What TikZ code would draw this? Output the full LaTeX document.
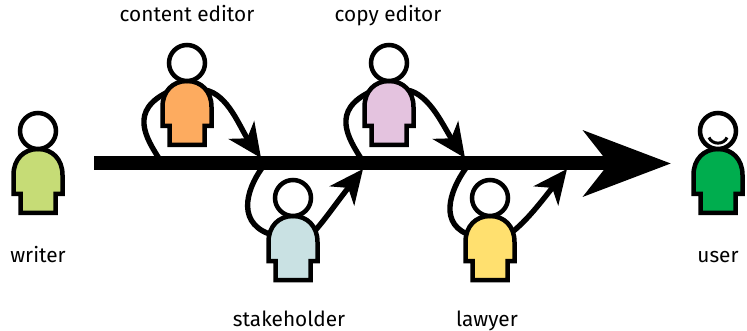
\documentclass[tikz,border=0pt]{standalone}
\usepackage{fontspec}
\setmainfont{Fira Sans}
\usetikzlibrary{arrows.meta}
\definecolor{cwriter}{HTML}{C6DC76}
\definecolor{ccontent}{HTML}{FDAB5F}
\definecolor{ccopy}{HTML}{E4C3DF}
\definecolor{cstake}{HTML}{C9E1E3}
\definecolor{claw}{HTML}{FFE06F}
\definecolor{cuser}{HTML}{00AD4E}
\tikzset{
  x=1pt,y=-1pt,
  lbl/.style={font=\fontsize{20.8}{22}\selectfont,text=black,inner sep=0pt,anchor=base},
  outline/.style={draw=black,line width=4.5pt,line join=miter},
  loopline/.style={draw=black,line width=5.4pt},
  flow/.style={draw=black,line width=5.4pt,-{Stealth[length=34pt,width=31pt,inset=10pt]}},
  mainflow/.style={draw=black,line width=14pt,-{Stealth[length=87pt,width=65pt,inset=25pt]}},
  pics/person/.style={code={
    \path[outline,fill=#1] (-24.5,44) .. controls (-24.5,28) and (-14,18) .. (0,18)
      .. controls (14,18) and (24.5,28) .. (24.5,44) -- (24.5,63) -- (17.5,63) -- (17.5,82)
      -- (-17.5,82) -- (-17.5,63) -- (-24.5,63) -- cycle;
    \path[outline,fill=white] (0,0) circle[radius=18];
  }}
}
\begin{document}
\begin{tikzpicture}
\useasboundingbox (0,0) rectangle (747,331);
% main flow
\coordinate (start) at (94,163.5);
\coordinate (end) at (671,163.5);
\draw[mainflow] (start) -- (end);
% loops above
\coordinate (a1) at (160,160);
\coordinate (a2) at (170,91);
\coordinate (a3) at (205,90);
\coordinate (a4) at (261,158);
\draw[loopline] (a1) .. controls (146,138) and (128,110) .. (a2);
\draw[flow] (a3) .. controls (228,94) and (240,128) .. (a4);
\coordinate (b1) at (362,160);
\coordinate (b2) at (372,91);
\coordinate (b3) at (407,90);
\coordinate (b4) at (465,158);
\draw[loopline] (b1) .. controls (348,138) and (330,110) .. (b2);
\draw[flow] (b3) .. controls (430,94) and (444,128) .. (b4);
% loops below
\coordinate (c1) at (262,168);
\coordinate (c2) at (276,236);
\coordinate (c3) at (310,236);
\coordinate (c4) at (363,169);
\draw[loopline] (c1) .. controls (246,190) and (235,226) .. (c2);
\draw[flow] (c3) .. controls (322,224) and (334,206) .. (c4);
\coordinate (d1) at (466,168);
\coordinate (d2) at (473,236);
\coordinate (d3) at (507,236);
\coordinate (d4) at (567,169);
\draw[loopline] (d1) .. controls (450,190) and (437,226) .. (d2);
\draw[flow] (d3) .. controls (524,224) and (538,206) .. (d4);
% people
\pic at (38,131) {person=cwriter};
\pic at (187,63) {person=ccontent};
\pic at (389,63) {person=ccopy};
\pic at (293,198) {person=cstake};
\pic at (490,198) {person=claw};
\pic at (718,131) {person=cuser};
\draw[line width=3pt] (709,137.5) .. controls (712,145) and (724,145) .. (727,137.5);
% labels
\node[lbl] (lwriter) at (38,262) {writer};
\node[lbl] (lcontent) at (187,22) {content editor};
\node[lbl] (lcopy) at (388,22) {copy editor};
\node[lbl] (lstake) at (289,326) {stakeholder};
\node[lbl] (llaw) at (487,326) {lawyer};
\node[lbl] (luser) at (718,262) {user};
\end{tikzpicture}
\end{document}
